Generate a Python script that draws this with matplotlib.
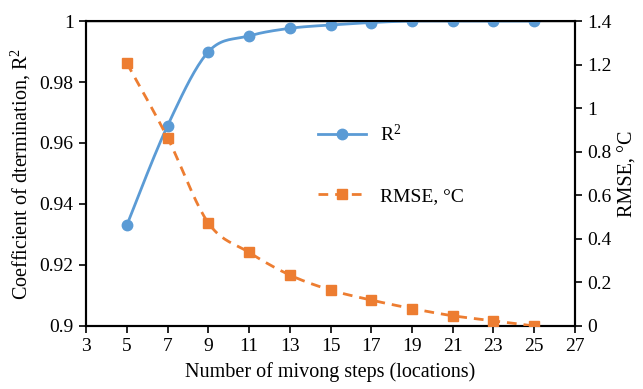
import numpy as np
import matplotlib
matplotlib.use("Agg")
import matplotlib.pyplot as plt

plt.rcParams['font.family'] = ['Liberation Serif', 'DejaVu Serif']
plt.rcParams['mathtext.fontset'] = 'custom'
plt.rcParams['mathtext.rm'] = 'Liberation Serif'
plt.rcParams['mathtext.it'] = 'Liberation Serif:italic'

steps = [5, 7, 9, 11, 13, 15, 17, 19, 21, 23, 25]
r2 = [0.9331, 0.9657, 0.9899, 0.9951, 0.9976, 0.9987, 0.9995, 1.0, 1.0, 1.0, 1.0]
rmse = [1.206, 0.864, 0.473, 0.338, 0.234, 0.165, 0.119, 0.080, 0.047, 0.024, 0.0]

blue = '#5B9BD5'
orange = '#ED7D31'


def smooth(x, y, n=20):
    # Catmull-Rom curve through the points, like a smoothed spreadsheet line
    x = np.asarray(x, float)
    y = np.asarray(y, float)
    px = np.concatenate([[x[0]], x, [x[-1]]])
    py = np.concatenate([[y[0]], y, [y[-1]]])
    xs, ys = [], []
    t = np.linspace(0, 1, n, endpoint=False)
    for i in range(1, len(px) - 2):
        for p, out in ((px, xs), (py, ys)):
            p0, p1, p2, p3 = p[i - 1], p[i], p[i + 1], p[i + 2]
            out.extend(0.5 * (2 * p1 + (-p0 + p2) * t
                              + (2 * p0 - 5 * p1 + 4 * p2 - p3) * t ** 2
                              + (-p0 + 3 * p1 - 3 * p2 + p3) * t ** 3))
    xs.append(x[-1])
    ys.append(y[-1])
    return np.array(xs), np.array(ys)


fig, ax = plt.subplots(figsize=(6.43, 3.89), dpi=100)
fig.subplots_adjust(left=0.134, right=0.894, top=0.946, bottom=0.162)
ax2 = ax.twinx()

sx, sy = smooth(steps, r2)
ax.plot(sx, sy, color=blue, lw=2, zorder=3)
ax.plot(steps, r2, 'o', color=blue, ms=7.5, zorder=4)
l1, = ax.plot([], [], '-o', color=blue, lw=2, ms=7.5, label='R$^2$')

sx, sy = smooth(steps, rmse)
ax2.plot(sx, sy, color=orange, lw=2, ls=(0, (3.5, 2.5)), zorder=3)
ax2.plot(steps, rmse, 's', color=orange, ms=7, zorder=4)
l2, = ax2.plot([], [], ls=(0, (3.5, 2.5)), marker='s', color=orange, lw=2, ms=7,
               label='RMSE, °C')

ax.set_xlim(3, 27)
ax.set_ylim(0.9, 1.0)
ax2.set_ylim(0, 1.4)
ax.set_xticks(range(3, 28, 2))
ax.set_yticks([0.9, 0.92, 0.94, 0.96, 0.98, 1.0])
ax.set_yticklabels(['0.9', '0.92', '0.94', '0.96', '0.98', '1'])
ax2.set_yticks([0, 0.2, 0.4, 0.6, 0.8, 1.0, 1.2, 1.4])
ax2.set_yticklabels(['0', '0.2', '0.4', '0.6', '0.8', '1', '1.2', '1.4'])

for a in (ax, ax2):
    a.tick_params(labelsize=14, direction='out', length=5, width=1.2, pad=4)
    for s in a.spines.values():
        s.set_linewidth(1.5)
ax.spines['top'].set_linewidth(1.0)

ax.set_xlabel('Number of mivong steps (locations)', fontsize=14.5, labelpad=5)
ax.set_ylabel('Coefficient of dtermination, R$^2$', fontsize=14.5, labelpad=5)
ax2.set_ylabel('RMSE, °C', fontsize=14.5, labelpad=5)

ax.legend(handles=[l1, l2], loc='center left', bbox_to_anchor=(0.438, 0.53),
          frameon=False, fontsize=14, labelspacing=2.2, handlelength=2.5,
          handletextpad=0.7)

fig.savefig('out.png', dpi=100)
